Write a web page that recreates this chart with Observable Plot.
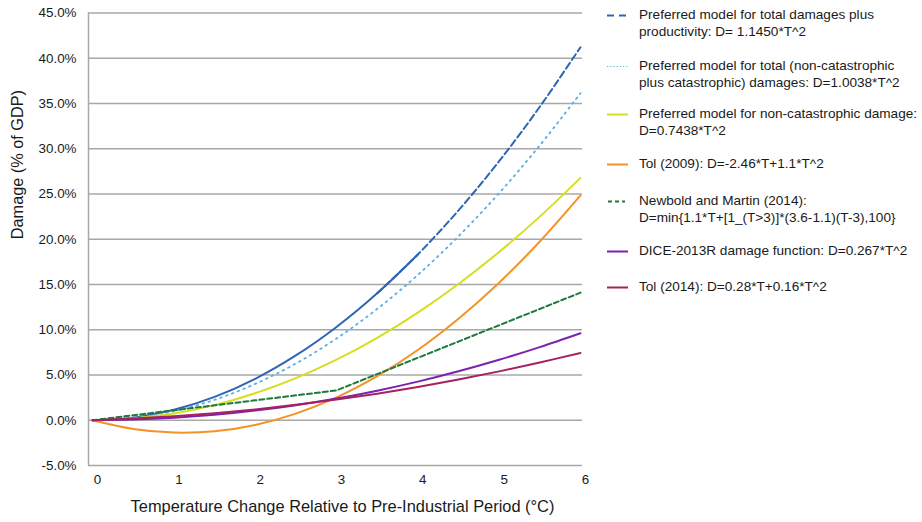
<!DOCTYPE html>
<html>
<head>
<meta charset="utf-8">
<script src="https://cdn.jsdelivr.net/npm/d3@7"></script>
<script src="https://cdn.jsdelivr.net/npm/@observablehq/plot@0.6"></script>
<style>
  html, body { margin: 0; padding: 0; background: #fff; }
  #wrap { position: relative; width: 922px; height: 522px; font-family: "Liberation Sans", Arial, Helvetica, sans-serif; color: #1a1a1a; }
  #chart { position: absolute; left: 0; top: 0; }
  .lg { position: absolute; left: 606px; font-size: 13.6px; line-height: 16.5px; }
  .lg svg { position: absolute; left: 0; top: 0; }
  .lg span { position: absolute; left: 33px; top: 0; white-space: nowrap; }
</style>
</head>
<body>
<div id="wrap">
  <div id="chart"></div>
  <div id="legend"></div>
</div>
<script>
// Temperature change (°C)
const temps = [0, 0.5, 1, 1.5, 2, 2.5, 3, 3.5, 4, 4.5, 5, 5.5, 6];
// Damage (% of GDP)
const totalPlusProductivity = [0, 0.29, 1.15, 2.58, 4.58, 7.16, 10.31, 14.03, 18.32, 23.19, 28.63, 34.64, 41.22];
const totalCatastrophic     = [0, 0.25, 1.00, 2.26, 4.02, 6.27, 9.03, 12.30, 16.06, 20.33, 25.10, 30.37, 36.14];
const nonCatastrophic       = [0, 0.19, 0.74, 1.67, 2.98, 4.65, 6.69, 9.11, 11.90, 15.06, 18.60, 22.50, 26.78];
const tol2009               = [0, -0.96, -1.36, -1.22, -0.52, 0.73, 2.52, 4.87, 7.76, 11.21, 15.20, 19.75, 24.84];
const dice2013R             = [0, 0.07, 0.27, 0.60, 1.07, 1.67, 2.40, 3.27, 4.27, 5.41, 6.68, 8.08, 9.61];
const tol2014               = [0, 0.18, 0.44, 0.78, 1.20, 1.70, 2.28, 2.94, 3.68, 4.50, 5.40, 6.38, 7.44];
// Newbold and Martin (piecewise linear)
const newboldTemps  = [0, 1, 2, 3, 4, 5, 6];
const newboldValues = [0, 1.1, 2.2, 3.3, 6.9, 10.5, 14.1];

const yTicks = [-5, 0, 5, 10, 15, 20, 25, 30, 35, 40, 45];
const xTicks = [0, 1, 2, 3, 4, 5, 6];

const seriesNames = [
  "Preferred model for total damages plus productivity: D= 1.1450*T^2",
  "Preferred model for total (non-catastrophic plus catastrophic) damages: D=1.0038*T^2",
  "Preferred model for non-catastrophic damage: D=0.7438*T^2",
  "Tol (2009): D=-2.46*T+1.1*T^2",
  "Newbold and Martin (2014): D=min{1.1*T+[1_(T>3)]*(3.6-1.1)(T-3),100}",
  "DICE-2013R damage function: D=0.267*T^2",
  "Tol (2014): D=0.28*T+0.16*T^2"
];
const legendLines = [
  ["Preferred model for total damages plus", "productivity: D= 1.1450*T^2"],
  ["Preferred model for total (non-catastrophic", "plus catastrophic) damages: D=1.0038*T^2"],
  ["Preferred model for non-catastrophic damage:", "D=0.7438*T^2"],
  ["Tol (2009): D=-2.46*T+1.1*T^2"],
  ["Newbold and Martin (2014):", "D=min{1.1*T+[1_(T>3)]*(3.6-1.1)(T-3),100}"],
  ["DICE-2013R damage function: D=0.267*T^2"],
  ["Tol (2014): D=0.28*T+0.16*T^2"]
];
const colors = ["#2f66b3", "#5aaee3", "#d6df1e", "#f39325", "#1d7a3b", "#7d22b0", "#a6215f"];
const dashes = ["7,3", "1.6,4.6", null, null, "5,3", null, null];

const toRows = (xs, ys) => xs.map((t, i) => ({t, d: ys[i]}));
const rBlue = toRows(temps, totalPlusProductivity);
const rLight = toRows(temps, totalCatastrophic);
const rYellow = toRows(temps, nonCatastrophic);
const rOrange = toRows(temps, tol2009);
const rGreen = toRows(newboldTemps, newboldValues);
const rPurple = toRows(temps, dice2013R);
const rTol14 = toRows(temps, tol2014);

const font = '"Liberation Sans", Arial, Helvetica, sans-serif';
const lineOpts = (i, extra = {}) => ({x: "t", y: "d", stroke: colors[i], strokeWidth: 2, curve: "catmull-rom", strokeDasharray: dashes[i] ?? undefined, ...extra});

const plot = Plot.plot({
  width: 600,
  height: 522,
  marginTop: 12.5,
  marginBottom: 57,
  marginLeft: 88,
  marginRight: 18,
  style: {fontFamily: font, background: "transparent", color: "#1a1a1a"},
  x: {domain: [-0.05, 6.025]},
  y: {domain: [-5, 45]},
  marks: [
    Plot.gridY(yTicks, {stroke: "#a8a8a8", strokeOpacity: 1, strokeWidth: 1.5}),
    Plot.ruleX([-0.05], {y1: -5, y2: 45, stroke: "#a8a8a8", strokeWidth: 1.5}),
    Plot.axisY(yTicks, {tickSize: 0, tickPadding: 12, fontSize: 13.4, tickFormat: d => d.toFixed(1) + "%", label: null}),
    Plot.axisX(xTicks, {tickSize: 0, tickPadding: 9, fontSize: 13.4, dx: 5, label: null}),
    Plot.text(["Damage (% of GDP)"], {frameAnchor: "left", dx: -71, rotate: -90, fontSize: 16.3, fill: "#1a1a1a"}),
    Plot.text(["Temperature Change Relative to Pre-Industrial Period (°C)"], {frameAnchor: "bottom", dy: 46, dx: 7, fontSize: 16.4, fill: "#1a1a1a"}),
    // Blue: appears solid at lower values, dashed above
    Plot.line(rBlue.filter(r => r.t <= 4), lineOpts(0, {strokeDasharray: undefined})),
    Plot.line(rBlue.filter(r => r.t >= 3.5), lineOpts(0, {strokeDasharray: "7,3.5"})),
    Plot.line(rLight, lineOpts(1, {strokeWidth: 1.8})),
    Plot.line(rYellow, lineOpts(2)),
    Plot.line(rOrange, lineOpts(3)),
    Plot.line(rGreen, lineOpts(4, {curve: "linear"})),
    Plot.line(rPurple, lineOpts(5)),
    Plot.line(rTol14, lineOpts(6))
  ]
});
document.getElementById("chart").appendChild(plot);

// Legend
const legendTops = [7, 58, 106, 156, 193, 243, 279];
const legend = document.getElementById("legend");
legendLines.forEach((lines, i) => {
  const div = document.createElement("div");
  div.className = "lg";
  div.style.top = legendTops[i] + "px";
  div.title = seriesNames[i];
  let dash = "";
  if (i === 0) dash = 'stroke-dasharray="7,5"';
  if (i === 1) dash = 'stroke-dasharray="1.2,2"';
  if (i === 4) dash = 'stroke-dasharray="4,3"';
  const w = i === 1 ? 1.2 : 2;
  div.innerHTML = `<svg width="30" height="16"><line x1="${i===4?2:1}" x2="${i===4?19:22}" y1="8.5" y2="8.5" stroke="${colors[i]}" stroke-width="${w}" ${dash}/></svg>` +
    `<span>${lines.join("<br>")}</span>`;
  legend.appendChild(div);
});
</script>
</body>
</html>
